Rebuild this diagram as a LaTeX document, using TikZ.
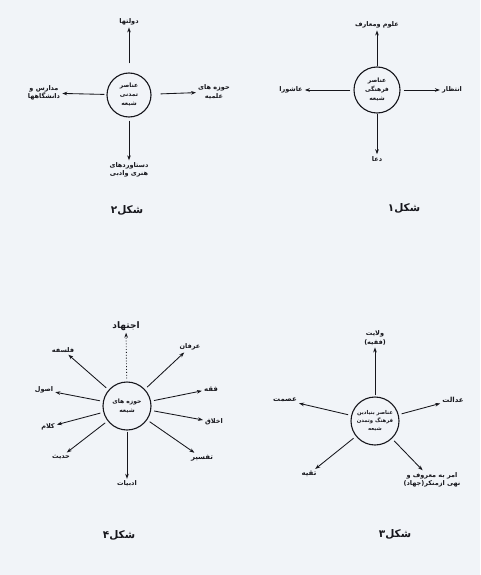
\documentclass[tikz,border=0pt]{standalone}
\usepackage{fontspec}
\newfontfamily\arabicfont[Script=Arabic]{DejaVu Sans}
\TeXXeTstate=1
\usetikzlibrary{arrows.meta}
\newcommand{\ar}[1]{\beginR #1\endR}
\definecolor{ink}{RGB}{22,22,28}
\definecolor{paper}{RGB}{241,244,248}
\begin{document}
\begin{tikzpicture}[x=1pt,y=-1pt,
  lbl/.style={font=\arabicfont\bfseries\fontsize{6.5}{8.5}\selectfont, text=ink, inner sep=2pt, align=center},
  blbl/.style={lbl, font=\arabicfont\bfseries\fontsize{7}{9}\selectfont},
  figcap/.style={font=\arabicfont\bfseries\fontsize{10.5}{12}\selectfont, text=ink, inner sep=0pt},
  hub/.style={circle, draw=ink, line width=1.1pt, inner sep=0pt, align=center, text=ink,
              font=\arabicfont\bfseries\fontsize{6}{9}\selectfont},
  arr/.style={draw=ink, line width=0.85pt, -{Stealth[length=5pt,width=3.6pt]}},
  darr/.style={arr, dotted, line width=0.9pt}]
\fill[paper] (0,0) rectangle (480,575);
\useasboundingbox (0,0) rectangle (480,575);

% ---------- Figure 2 (top left)
\node[hub, minimum size=44pt] (c2) at (129,95) {\ar{عناصر}\\\ar{تمدنی}\\\ar{شیعه}};
\node[lbl] (u2) at (129,22) {\ar{دولتها}};
\node[lbl] (l2) at (44,93) {\ar{مدارس و}\\\ar{دانشگاهها}};
\node[lbl, anchor=west] (r2) at (196,92) {\ar{حوزه های}\\\ar{علمیه}};
\node[lbl] (d2) at (129,170) {\ar{دستاوردهای}\\\ar{هنری وادبی}};
\node[figcap] (k2) at (127,210) {\ar{شکل۲}};
\draw[arr, shorten <=9pt] (c2) -- (u2);
\draw[arr, shorten <=2pt] (c2) -- (l2);
\draw[arr, shorten <=9pt] (c2) -- (r2);
\draw[arr, shorten <=3pt] (c2) -- (d2);

% ---------- Figure 1 (top right)
\node[hub, minimum size=46pt] (c1) at (377,90) {\ar{عناصر}\\\ar{فرهنگی}\\\ar{شیعه}};
\node[lbl] (u1) at (377,25) {\ar{علوم ومعارف}};
\node[lbl] (l1) at (291,90) {\ar{عاشورا}};
\node[lbl] (r1) at (452,90) {\ar{انتظار}};
\node[lbl] (d1) at (377,159) {\ar{دعا}};
\node[figcap] (k1) at (404,208) {\ar{شکل۱}};
\draw[arr] (c1) -- (u1);
\draw[arr, shorten <=3pt] (c1) -- (l1);
\draw[arr, shorten <=3pt] (c1) -- (r1);
\draw[arr] (c1) -- (d1);

% ---------- Figure 4 (bottom left)
\node[hub, minimum size=48pt] (c4) at (127,406) {\ar{حوزه های}\\\ar{شیعه}};
\node[lbl, font=\arabicfont\bfseries\fontsize{9}{11}\selectfont] (a4) at (126,326) {\ar{اجتهاد}};
\node[lbl] (b4) at (190,347) {\ar{عرفان}};
\node[lbl] (f4) at (63,350) {\ar{فلسفه}};
\node[blbl] (q4) at (211,389) {\ar{فقه}};
\node[lbl] (o4) at (44,390) {\ar{اصول}};
\node[lbl] (x4) at (214,422) {\ar{اخلاق}};
\node[lbl] (k4) at (48,427) {\ar{کلام}};
\node[blbl] (t4) at (202,458) {\ar{تفسیر}};
\node[lbl] (h4) at (61,457) {\ar{حدیث}};
\node[lbl] (y4) at (127,484) {\ar{ادبیات}};
\node[figcap] (g4) at (119,535) {\ar{شکل۴}};
\draw[darr, shorten <=3pt] (c4) -- (a4);
\draw[arr, shorten <=3pt] (c4) -- (b4);
\draw[arr, shorten <=3pt] (c4) -- (f4);
\draw[arr, shorten <=3pt] (c4) -- (q4);
\draw[arr, shorten <=3pt] (c4) -- (o4);
\draw[arr, shorten <=3pt] (c4) -- (x4);
\draw[arr, shorten <=3pt] (c4) -- (k4);
\draw[arr, shorten <=3pt] (c4) -- (t4);
\draw[arr, shorten <=3pt] (c4) -- (h4);
\draw[arr, shorten <=1pt] (c4) -- (y4);

% ---------- Figure 3 (bottom right)
\node[hub, minimum size=48pt, font=\arabicfont\bfseries\fontsize{5.3}{8}\selectfont] (c3) at (375,421)
  {\ar{عناصر بنیادین}\\\ar{فرهنگ وتمدن}\\\ar{شیعه}};
\node[lbl] (u3) at (375,338) {\ar{ولایت}\\\ar{(فقیه)}};
\node[blbl] (l3) at (285,400) {\ar{عصمت}};
\node[blbl] (r3) at (453,400) {\ar{عدالت}};
\node[blbl] (p3) at (309,474) {\ar{تقیه}};
\node[lbl] (m3) at (432,480) {\ar{امر به معروف و}\\\ar{نهی ازمنکر(جهاد)}};
\node[figcap] (g3) at (395,534) {\ar{شکل۳}};
\draw[arr, shorten <=1pt] (c3) -- (u3);
\draw[arr, shorten <=3pt] (c3) -- (l3);
\draw[arr, shorten <=3pt] (c3) -- (r3);
\draw[arr, shorten <=3pt] (c3) -- (p3);
\draw[arr, shorten <=3pt] (c3) -- (m3);
\end{tikzpicture}
\end{document}
